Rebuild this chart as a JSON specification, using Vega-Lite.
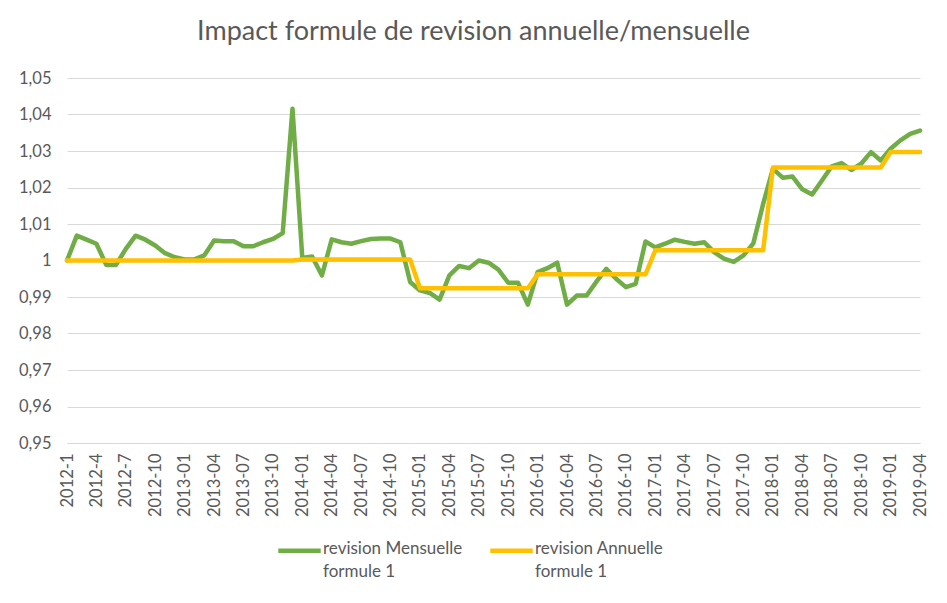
{
  "$schema": "https://vega.github.io/schema/vega-lite/v6.json",
  "width": 853,
  "height": 365,
  "autosize": "none",
  "padding": {"left": 67, "top": 78, "right": 27, "bottom": 160},
  "background": "white",
  "title": {
    "text": "Impact formule de revision annuelle/mensuelle",
    "font": "Lato",
    "fontSize": 27,
    "fontWeight": "normal",
    "color": "#595959",
    "anchor": "middle",
    "offset": 24,
    "dx": -20
  },
  "data": {
    "values": [
      {"m": "2012-1", "M": 1.0, "A": 1.0},
      {"m": "2012-2", "M": 1.0068, "A": 1.0},
      {"m": "2012-3", "M": 1.0057, "A": 1.0},
      {"m": "2012-4", "M": 1.0046, "A": 1.0},
      {"m": "2012-5", "M": 0.9988, "A": 1.0},
      {"m": "2012-6", "M": 0.9988, "A": 1.0},
      {"m": "2012-7", "M": 1.0032, "A": 1.0},
      {"m": "2012-8", "M": 1.0068, "A": 1.0},
      {"m": "2012-9", "M": 1.0057, "A": 1.0},
      {"m": "2012-10", "M": 1.0041, "A": 1.0},
      {"m": "2012-11", "M": 1.002, "A": 1.0},
      {"m": "2012-12", "M": 1.0009, "A": 1.0},
      {"m": "2013-01", "M": 1.0003, "A": 1.0},
      {"m": "2013-02", "M": 1.0003, "A": 1.0},
      {"m": "2013-03", "M": 1.0014, "A": 1.0},
      {"m": "2013-04", "M": 1.0055, "A": 1.0},
      {"m": "2013-05", "M": 1.0053, "A": 1.0},
      {"m": "2013-06", "M": 1.0053, "A": 1.0},
      {"m": "2013-07", "M": 1.0039, "A": 1.0},
      {"m": "2013-08", "M": 1.0039, "A": 1.0},
      {"m": "2013-09", "M": 1.005, "A": 1.0},
      {"m": "2013-10", "M": 1.0059, "A": 1.0},
      {"m": "2013-11", "M": 1.0075, "A": 1.0},
      {"m": "2013-12", "M": 1.0416, "A": 1.0},
      {"m": "2014-01", "M": 1.0007, "A": 1.0003},
      {"m": "2014-02", "M": 1.0011, "A": 1.0003},
      {"m": "2014-03", "M": 0.9959, "A": 1.0003},
      {"m": "2014-04", "M": 1.0058, "A": 1.0003},
      {"m": "2014-05", "M": 1.005, "A": 1.0003},
      {"m": "2014-06", "M": 1.0046, "A": 1.0003},
      {"m": "2014-07", "M": 1.0053, "A": 1.0003},
      {"m": "2014-08", "M": 1.0059, "A": 1.0003},
      {"m": "2014-09", "M": 1.006, "A": 1.0003},
      {"m": "2014-10", "M": 1.006, "A": 1.0003},
      {"m": "2014-11", "M": 1.005, "A": 1.0003},
      {"m": "2014-12", "M": 0.9941, "A": 1.0003},
      {"m": "2015-01", "M": 0.9918, "A": 0.9924},
      {"m": "2015-02", "M": 0.9911, "A": 0.9924},
      {"m": "2015-03", "M": 0.9893, "A": 0.9924},
      {"m": "2015-04", "M": 0.9959, "A": 0.9924},
      {"m": "2015-05", "M": 0.9985, "A": 0.9924},
      {"m": "2015-06", "M": 0.9979, "A": 0.9924},
      {"m": "2015-07", "M": 1.0, "A": 0.9924},
      {"m": "2015-08", "M": 0.9994, "A": 0.9924},
      {"m": "2015-09", "M": 0.9975, "A": 0.9924},
      {"m": "2015-10", "M": 0.9939, "A": 0.9924},
      {"m": "2015-11", "M": 0.9939, "A": 0.9924},
      {"m": "2015-12", "M": 0.9879, "A": 0.9924},
      {"m": "2016-01", "M": 0.9968, "A": 0.9962},
      {"m": "2016-02", "M": 0.9979, "A": 0.9962},
      {"m": "2016-03", "M": 0.9994, "A": 0.9962},
      {"m": "2016-04", "M": 0.9879, "A": 0.9962},
      {"m": "2016-05", "M": 0.9904, "A": 0.9962},
      {"m": "2016-06", "M": 0.9904, "A": 0.9962},
      {"m": "2016-07", "M": 0.9942, "A": 0.9962},
      {"m": "2016-08", "M": 0.9977, "A": 0.9962},
      {"m": "2016-09", "M": 0.995, "A": 0.9962},
      {"m": "2016-10", "M": 0.9927, "A": 0.9962},
      {"m": "2016-11", "M": 0.9936, "A": 0.9962},
      {"m": "2016-12", "M": 1.0052, "A": 0.9962},
      {"m": "2017-01", "M": 1.0036, "A": 1.0028},
      {"m": "2017-02", "M": 1.0046, "A": 1.0028},
      {"m": "2017-03", "M": 1.0057, "A": 1.0028},
      {"m": "2017-04", "M": 1.0051, "A": 1.0028},
      {"m": "2017-05", "M": 1.0046, "A": 1.0028},
      {"m": "2017-06", "M": 1.005, "A": 1.0028},
      {"m": "2017-07", "M": 1.0023, "A": 1.0028},
      {"m": "2017-08", "M": 1.0005, "A": 1.0028},
      {"m": "2017-09", "M": 0.9996, "A": 1.0028},
      {"m": "2017-10", "M": 1.0014, "A": 1.0028},
      {"m": "2017-11", "M": 1.0047, "A": 1.0028},
      {"m": "2017-12", "M": 1.0155, "A": 1.0028},
      {"m": "2018-01", "M": 1.0251, "A": 1.0255},
      {"m": "2018-02", "M": 1.0227, "A": 1.0255},
      {"m": "2018-03", "M": 1.023, "A": 1.0255},
      {"m": "2018-04", "M": 1.0195, "A": 1.0255},
      {"m": "2018-05", "M": 1.0181, "A": 1.0255},
      {"m": "2018-06", "M": 1.0219, "A": 1.0255},
      {"m": "2018-07", "M": 1.0258, "A": 1.0255},
      {"m": "2018-08", "M": 1.0267, "A": 1.0255},
      {"m": "2018-09", "M": 1.0248, "A": 1.0255},
      {"m": "2018-10", "M": 1.0265, "A": 1.0255},
      {"m": "2018-11", "M": 1.0297, "A": 1.0255},
      {"m": "2018-12", "M": 1.0274, "A": 1.0255},
      {"m": "2019-01", "M": 1.0306, "A": 1.0297},
      {"m": "2019-02", "M": 1.0329, "A": 1.0297},
      {"m": "2019-03", "M": 1.0347, "A": 1.0297},
      {"m": "2019-04", "M": 1.0356, "A": 1.0297}
    ]
  },
  "transform": [{"fold": ["M", "A"], "as": ["k", "v"]}],
  "mark": {"type": "line", "strokeWidth": 4.5, "strokeJoin": "round", "strokeCap": "round"},
  "encoding": {
    "x": {
      "field": "m",
      "type": "ordinal",
      "sort": null,
      "scale": {"type": "point", "padding": 0},
      "axis": {
        "title": null,
        "values": ["2012-1", "2012-4", "2012-7", "2012-10", "2013-01", "2013-04", "2013-07", "2013-10", "2014-01", "2014-04", "2014-07", "2014-10", "2015-01", "2015-04", "2015-07", "2015-10", "2016-01", "2016-04", "2016-07", "2016-10", "2017-01", "2017-04", "2017-07", "2017-10", "2018-01", "2018-04", "2018-07", "2018-10", "2019-01", "2019-04"],
        "labelAngle": -90,
        "labelFont": "Lato",
        "labelFontSize": 16.5,
        "labelColor": "#595959",
        "labelPadding": 10,
        "labelOverlap": false,
        "ticks": false,
        "grid": false,
        "domainColor": "#D9D9D9",
        "domainWidth": 1.2
      }
    },
    "y": {
      "field": "v",
      "type": "quantitative",
      "scale": {"domain": [0.95, 1.05], "nice": false, "zero": false},
      "axis": {
        "title": null,
        "values": [0.95, 0.96, 0.97, 0.98, 0.99, 1, 1.01, 1.02, 1.03, 1.04, 1.05],
        "labelExpr": "replace(format(datum.value, '~g'), '.', ',')",
        "labelFont": "Lato",
        "labelFontSize": 16.5,
        "labelColor": "#595959",
        "labelPadding": 16,
        "domain": false,
        "ticks": false,
        "gridColor": "#D9D9D9",
        "gridWidth": 1.2
      }
    },
    "color": {
      "field": "k",
      "type": "nominal",
      "scale": {"domain": ["M", "A"], "range": ["#70AD47", "#FFC000"]},
      "legend": {
        "title": null,
        "orient": "none",
        "legendX": 209,
        "legendY": 449,
        "direction": "horizontal",
        "symbolType": "stroke",
        "symbolStrokeWidth": 4.5,
        "symbolSize": 1800,
        "labelFont": "Lato",
        "labelFontSize": 17,
        "labelColor": "#595959",
        "labelOffset": 0,
        "labelLimit": 300,
        "columnPadding": 18,
        "labelBaseline": "top",
        "labelExpr": "datum.label == 'M' ? ['revision Mensuelle', 'formule 1'] : ['revision Annuelle', 'formule 1']",
        "encode": {"labels": {"update": {"dy": {"value": -10}, "lineHeight": {"value": 23}}}}
      }
    }
  },
  "config": {"view": {"stroke": null}}
}
